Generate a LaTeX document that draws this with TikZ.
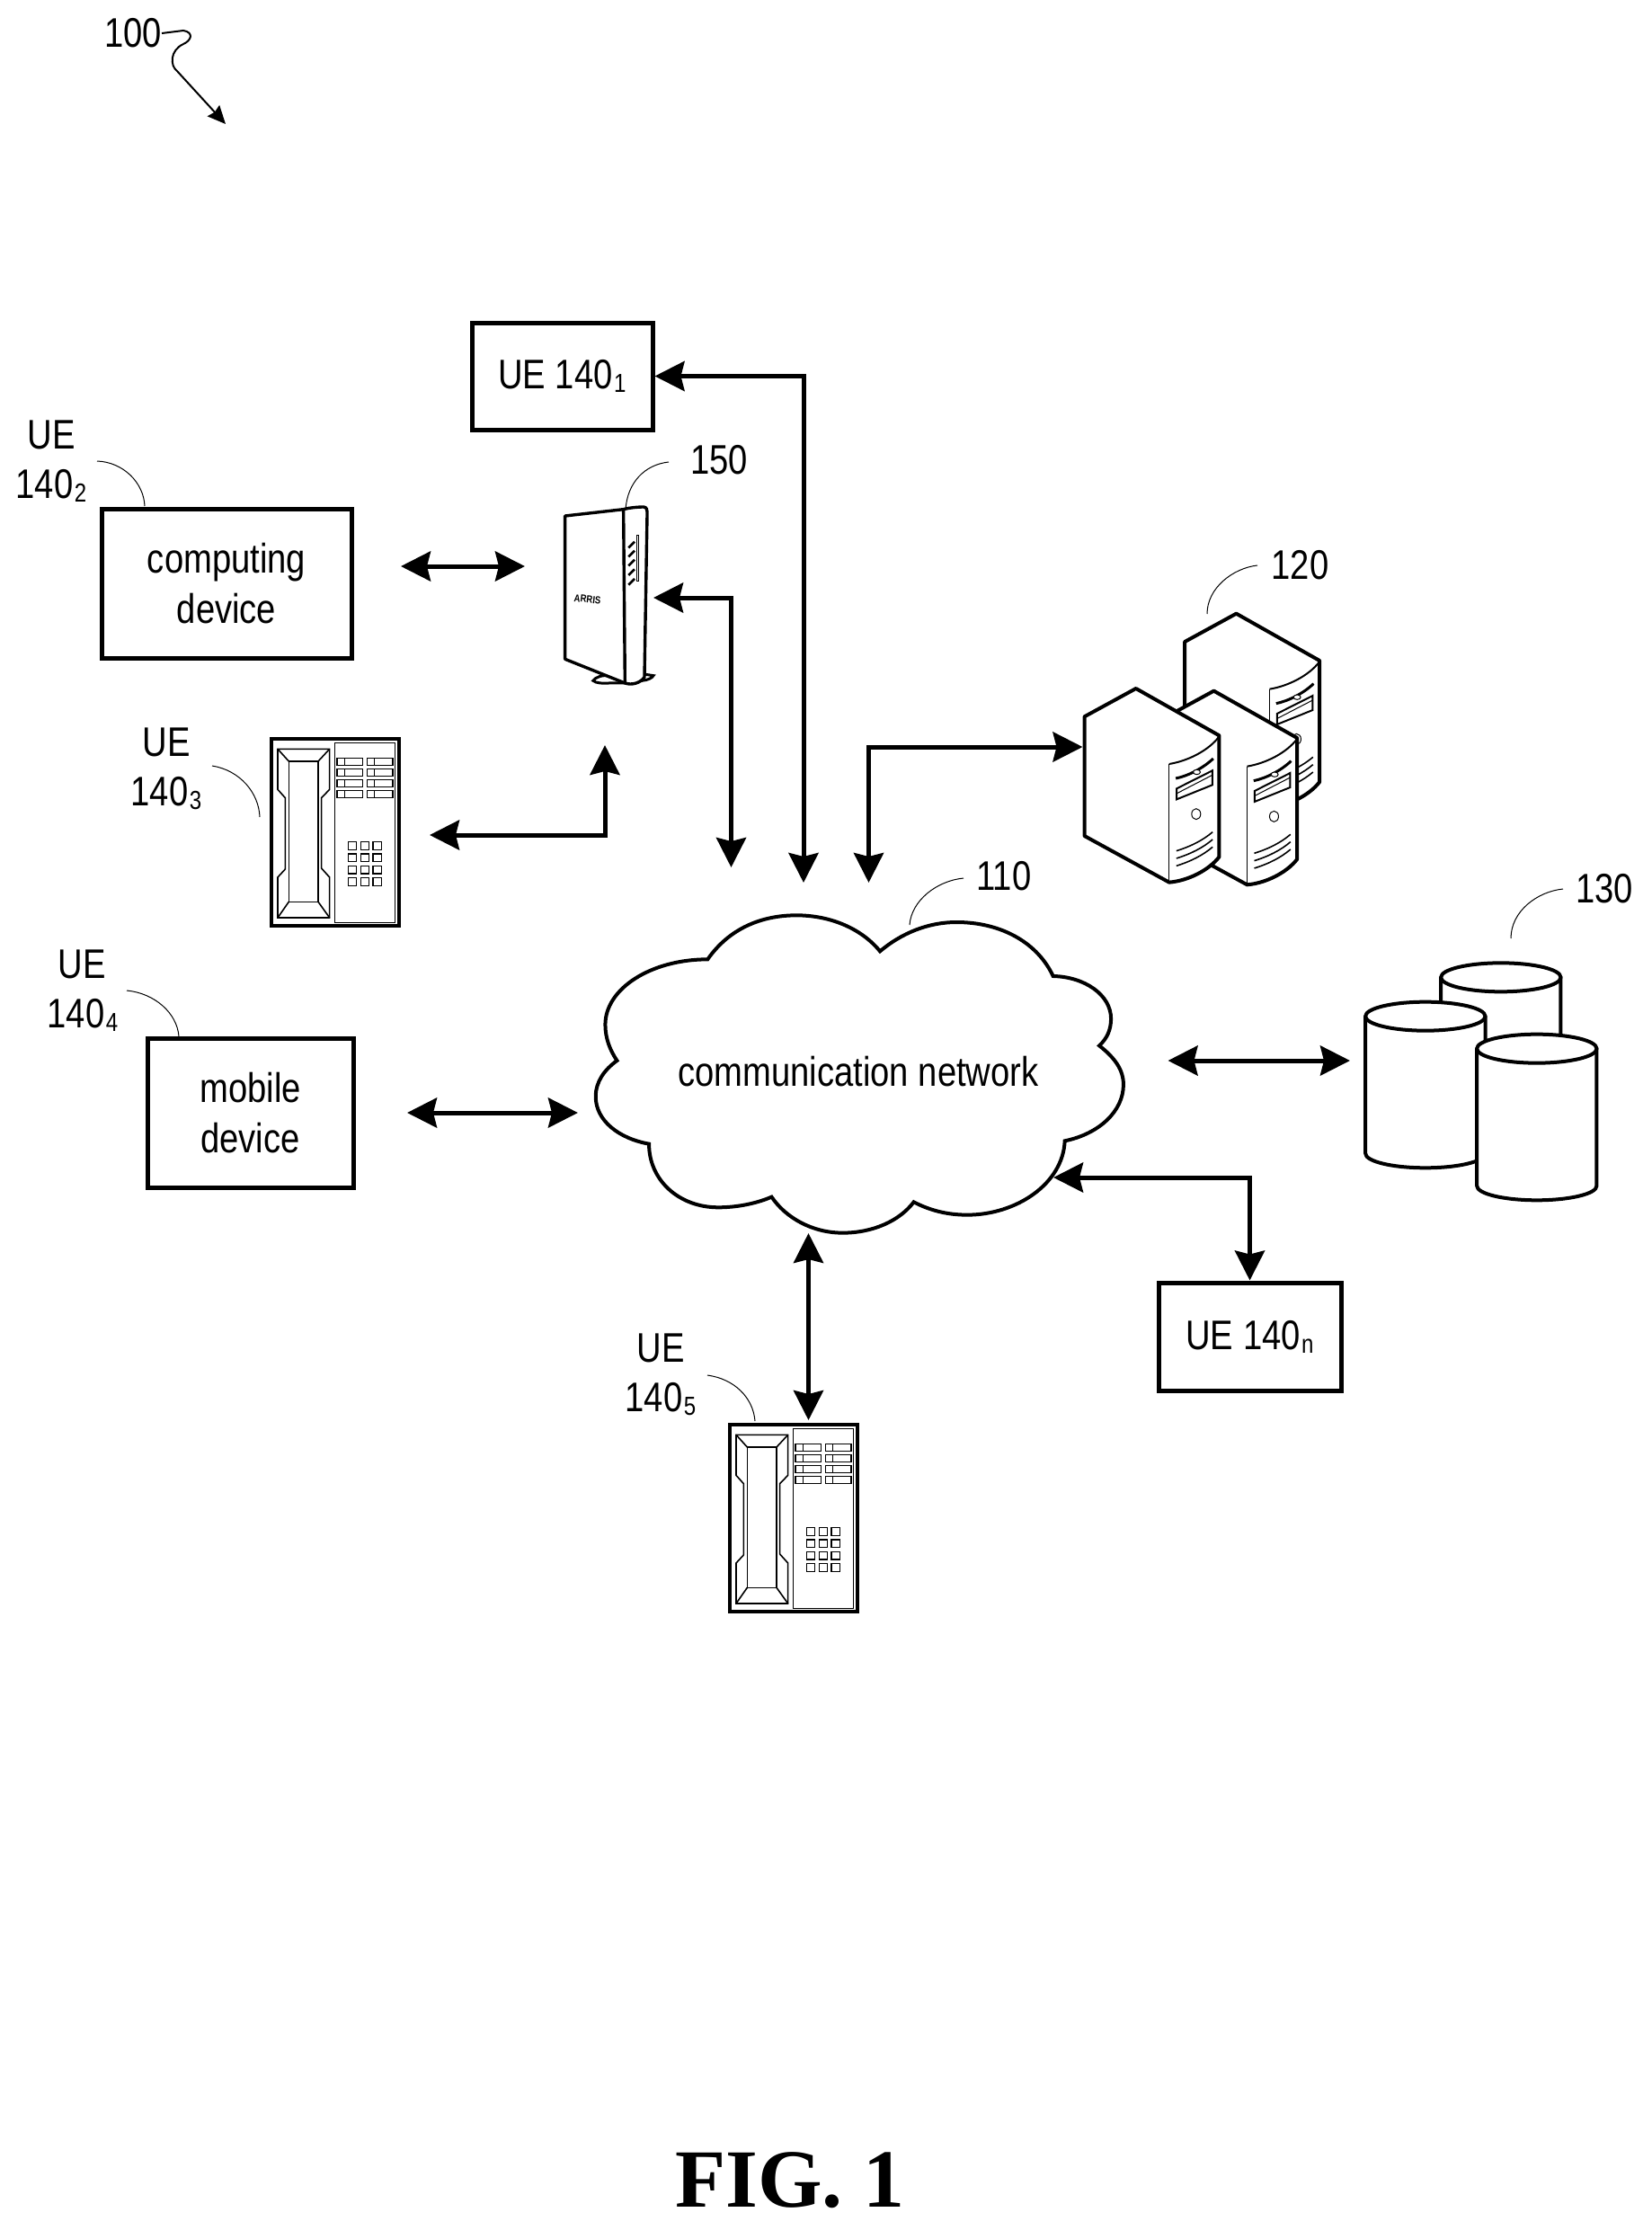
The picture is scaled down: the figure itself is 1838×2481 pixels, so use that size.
\documentclass[tikz,border=0pt]{standalone}
\usepackage{fontspec}
\setmainfont[FakeStretch=0.83]{Liberation Sans}
\newfontfamily\figfont{Liberation Serif}
\usetikzlibrary{arrows.meta}
\newcommand{\sbt}[1]{\kern1.5pt\raisebox{-4pt}{\fontsize{29}{29}\selectfont #1}}
\tikzset{
  lbl/.style={inner sep=0pt,align=center,font=\fontsize{46}{56}\selectfont},
  ubox/.style={draw,line width=5pt,fill=white,inner sep=0pt,align=center,font=\fontsize{46}{56}\selectfont},
  conn/.style={line width=5pt,line join=miter},
  both/.style={conn,{Stealth[length=33pt,width=33pt,inset=4pt]}-{Stealth[length=33pt,width=33pt,inset=4pt]}},
  leadline/.style={line width=1pt},
  heavy/.style={line width=4pt,line join=round,fill=white},
  thinl/.style={line width=1.6pt,line join=miter},
}
\newcommand{\phonepic}[2]{%
\begin{scope}[shift={(#1,#2)},x=0.3333pt,y=-0.3333pt]
  \draw[line width=4pt,fill=white] (67,124) rectangle (492,748);
  \draw[thinl] (87,157) -- (260,157) -- (260,292) -- (233,320) -- (233,555) -- (260,585) -- (260,720) -- (87,720) -- (87,585) -- (112,558) -- (112,320) -- (87,292) -- cycle;
  \draw[thinl] (124,198) rectangle (222,667);
  \draw[thinl] (87,157) -- (124,198) (260,157) -- (222,198) (87,720) -- (124,667) (260,720) -- (222,667);
  \draw[thinl] (277,136) rectangle (479,736);
  \foreach \yy in {187,223,259,295} {
    \draw[thinl] (285,\yy) rectangle (371,\yy+24);
    \draw[thinl] (310,\yy) -- (310,\yy+24);
    \draw[thinl] (385,\yy) rectangle (471,\yy+24);
    \draw[thinl] (410,\yy) -- (410,\yy+24);
  }
  \foreach \yy in {467,507,547,587} \foreach \xx in {322,364,405}
    \draw[thinl] (\xx,\yy) rectangle (\xx+28,\yy+26);
\end{scope}}
\newcommand{\serverpic}[2]{%
\begin{scope}[shift={(#1,#2)}]
  \draw[heavy] (277,318) -- (105,412) -- (105,810) -- (388,965) .. controls (450,960) and (520,925) .. (555,880) -- (555,475) -- cycle;
  \draw[line width=1.2pt] (388,570) -- (388,965);
  \draw[line width=2pt] (388,570) .. controls (450,560) and (520,525) .. (555,478);
  \draw[line width=3pt] (410,618) .. controls (450,610) and (500,585) .. (535,552);
  \draw[line width=1pt,fill=white] (480,597) ellipse (12 and 8);
  \draw[line width=2pt,line join=miter] (413,652) -- (532,592) -- (532,640) -- (413,688) -- cycle;
  \draw[line width=1pt] (414,668) -- (530,608);
  \draw[line width=1pt] (478,737) ellipse (15 and 18);
  \foreach \dd in {0,25,50}
    \draw[line width=1.6pt] (412,860+\dd) .. controls (460,845+\dd) and (500,825+\dd) .. (533,797+\dd);
\end{scope}}
\newcommand{\cylpic}[3]{% cx, cy top, cy bottom
  \draw[heavy] (#1-200,#2) -- (#1-200,#3) arc[start angle=180,end angle=360,x radius=200,y radius=-48] -- (#1+200,#2) -- cycle;
  \draw[heavy] (#1,#2) ellipse (200 and 48);
}
\begin{document}
\begin{tikzpicture}[x=1pt,y=-1pt]
\useasboundingbox (-2,-2) rectangle (1836,2479);
\fill[white] (-2,-2) rectangle (1836,2479);

% reference 100
\node[lbl] (ref100) at (146,35) {100};
\coordinate (ref100tip) at (249,136);
\draw[line width=2pt,-{Stealth[length=20pt,width=18pt,inset=2pt]}] (ref100.east) -- (202,32) .. controls (214,34) and (211,43) .. (202,47) .. controls (187,54) and (187,71) .. (195,77) -- (ref100tip);

% boxes
\node[ubox,minimum width=201pt,minimum height=119pt] (ue1) at (623.5,416.5) {UE 140\sbt{1}};
\node[ubox,minimum width=278pt,minimum height=166pt] (comp) at (250,647) {computing\\device};
\node[ubox,minimum width=229pt,minimum height=166pt] (mobile) at (276.5,1236) {mobile\\device};
\node[ubox,minimum width=203pt,minimum height=120pt] (uen) at (1388.5,1485) {UE 140\sbt{n}};

% phones
\phonepic{278}{779}
\phonepic{788}{1542}

% router
\begin{scope}[shift={(589,538)},x=0.3333pt,y=-0.3333pt]
  \draw[line width=3pt,fill=white] (207,652) .. controls (215,640) and (235,633) .. (260,635) -- (320,660) -- (260,660) .. controls (240,662) and (215,660) .. (207,652) -- cycle;
  \draw[line width=3pt,fill=white] (375,630) -- (408,635) .. controls (405,642) and (390,650) .. (370,652) -- cycle;
  \draw[line width=3.4pt,line join=round,fill=white] (113,102) -- (308,80) .. controls (330,74) and (360,72) .. (375,72) .. controls (385,72) and (388,80) .. (387,100) -- (378,640) .. controls (365,660) and (335,668) .. (313,660) -- (113,580) -- cycle;
  \draw[line width=3.4pt] (308,80) -- (313,660);
  \draw[line width=1pt] (352,165) rectangle (360,320);
  \foreach \yy in {208,238,268,300,332}
    \draw[line width=2.6pt] (325,\yy) -- (345,\yy-20);
  \node[inner sep=0pt,rotate=-6,font=\fontsize{11.5}{12}\selectfont\bfseries] (arris) at (188,380) {ARRIS};
\end{scope}

% servers
\begin{scope}[shift={(1169.5,658)},x=0.3333pt,y=-0.3333pt]
  \serverpic{335}{-250}
  \serverpic{260}{8}
  \serverpic{0}{0}
\end{scope}

% cylinders
\begin{scope}[shift={(1479.5,1038)},x=0.3333pt,y=-0.3333pt]
  \cylpic{565}{142}{600}
  \cylpic{313}{272}{730}
  \cylpic{685}{380}{838}
\end{scope}

% cloud
\begin{scope}[shift={(639,988)},x=0.3954pt,y=-0.3333pt]
  \draw[heavy,line join=miter] (370,232) .. controls (430,130) and (520,85) .. (620,85) .. controls (710,85) and (800,125) .. (855,205)
   .. controls (915,145) and (990,108) .. (1070,108) .. controls (1200,108) and (1300,180) .. (1342,288)
   .. controls (1430,290) and (1505,350) .. (1505,430) .. controls (1505,465) and (1495,495) .. (1472,520)
   .. controls (1515,560) and (1540,600) .. (1540,650) .. controls (1540,740) and (1470,815) .. (1375,838)
   .. controls (1370,980) and (1240,1085) .. (1100,1085) .. controls (1045,1085) and (995,1070) .. (950,1042)
   .. controls (910,1105) and (835,1145) .. (750,1145) .. controls (665,1145) and (590,1095) .. (550,1025)
   .. controls (505,1048) and (450,1060) .. (400,1060) .. controls (290,1060) and (205,970) .. (205,848)
   .. controls (120,830) and (55,770) .. (55,690) .. controls (55,640) and (80,600) .. (115,570)
   .. controls (95,535) and (82,495) .. (82,450) .. controls (82,330) and (210,232) .. (370,232) -- cycle;
\end{scope}
\node[lbl] (net) at (953,1190) {communication network};

% labels
\node[lbl] (l2a) at (55,482) {UE};
\node[lbl] (l2b) at (55,538) {140\sbt{2}};
\node[lbl] (l3a) at (183,824) {UE};
\node[lbl] (l3b) at (183,881) {140\sbt{3}};
\node[lbl] (l4a) at (89,1071) {UE};
\node[lbl] (l4b) at (90,1127) {140\sbt{4}};
\node[lbl] (l5a) at (733,1498) {UE};
\node[lbl] (l5b) at (733,1555) {140\sbt{5}};
\node[lbl] (l150) at (798,510) {150};
\node[lbl] (l120) at (1444.5,627) {120};
\node[lbl] (l110) at (1115,973) {110};
\node[lbl] (l130) at (1783,987) {130};
\node[inner sep=0pt,font=\figfont\fontsize{92}{92}\selectfont\bfseries] (fig) at (877,2424) {FIG. 1};

% leader lines
\draw[leadline] (106,511) .. controls (135,512) and (158,535) .. (159,561);
\draw[leadline] (742,512) .. controls (715,515) and (696,535) .. (694,565);
\draw[leadline] (234,850) .. controls (265,855) and (286,880) .. (287,907);
\draw[leadline] (139,1100) .. controls (170,1103) and (195,1125) .. (197,1151);
\draw[leadline] (785,1528) .. controls (815,1532) and (836,1553) .. (838,1579);
\draw[leadline] (1070,975) .. controls (1040,978) and (1012,1000) .. (1010,1027);
\draw[leadline] (1397,627) .. controls (1370,630) and (1341,652) .. (1341,681);
\draw[leadline] (1737,987) .. controls (1708,990) and (1679,1012) .. (1679,1042);

% connector ends
\coordinate (netA) at (892,980);
\coordinate (compR) at (444,628);
\coordinate (rtrL) at (582,628);
\coordinate (rtrR) at (725,663);
\coordinate (netB) at (811.5,963);
\coordinate (p3R) at (476,927);
\coordinate (rtrB) at (671,827);
\coordinate (netC) at (964.5,980);
\coordinate (srvL) at (1202.5,829);
\coordinate (mobR) at (451,1236);
\coordinate (netL) at (641,1236);
\coordinate (netR) at (1297.5,1178);
\coordinate (cylL) at (1500,1178);
\coordinate (netE) at (1170,1308);
\coordinate (netS) at (897.5,1370);
\coordinate (p5T) at (897.5,1578);

% connectors
\draw[both] (ue1.east) -| (netA);
\draw[both] (compR) -- (rtrL);
\draw[both] (rtrR) -| (netB);
\draw[both] (p3R) -| (rtrB);
\draw[both] (netC) |- (srvL);
\draw[both] (mobR) -- (netL);
\draw[both] (netR) -- (cylL);
\draw[both] (netE) -| (uen.north);
\draw[both] (netS) -- (p5T);
\end{tikzpicture}
\end{document}
